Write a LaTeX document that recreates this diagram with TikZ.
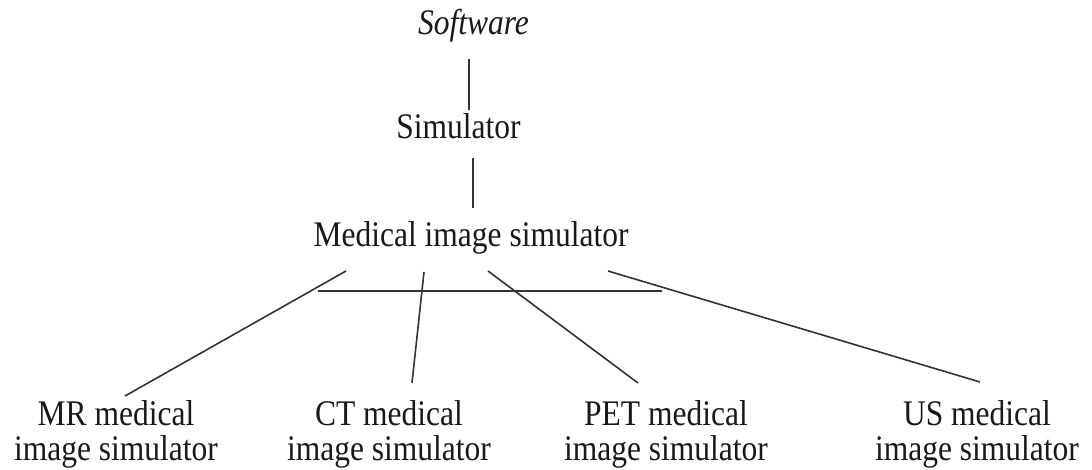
\documentclass[tikz,border=0pt]{standalone}
\usepackage{fontspec}
\setmainfont{Liberation Serif}[FakeStretch=0.875]
\begin{document}
\begin{tikzpicture}[x=1pt,y=-1pt,
  lbl/.style={inner sep=0pt, font=\fontsize{36}{35}\selectfont, align=center, text=black!90},
  conn/.style={line width=1.6pt, draw=black!80}]
\useasboundingbox (0,0) rectangle (1092,470);
\node[lbl, anchor=base] (sw) at (473.5,35) {\itshape Software};
\node[lbl, anchor=base] (sim) at (458.5,139) {Simulator};
\node[lbl, anchor=base] (med) at (471,247) {Medical image simulator};
\node[lbl, anchor=base] (mr) at (116,460) {MR medical\\image simulator};
\node[lbl, anchor=base] (ct) at (389,460) {CT medical\\image simulator};
\node[lbl, anchor=base] (pet) at (666,460) {PET medical\\image simulator};
\node[lbl, anchor=base] (us) at (977,460) {US medical\\image simulator};
% connector end points
\coordinate (a1) at (469,59);  \coordinate (a2) at (469,110);
\coordinate (b1) at (473,158); \coordinate (b2) at (473,208);
\coordinate (mrT) at (346,271);  \coordinate (mrB) at (125,396);
\coordinate (ctT) at (424,272);  \coordinate (ctB) at (412,383);
\coordinate (petT) at (488,271); \coordinate (petB) at (638,383);
\coordinate (usT) at (608,271);  \coordinate (usB) at (980,382);
\coordinate (h1) at (318,291);   \coordinate (h2) at (662,291);
\draw[conn] (a1) -- (a2);
\draw[conn] (b1) -- (b2);
\draw[conn] (mrT) -- (mrB);
\draw[conn] (ctT) -- (ctB);
\draw[conn] (petT) -- (petB);
\draw[conn] (usT) -- (usB);
\draw[conn] (h1) -- (h2);
\end{tikzpicture}
\end{document}
